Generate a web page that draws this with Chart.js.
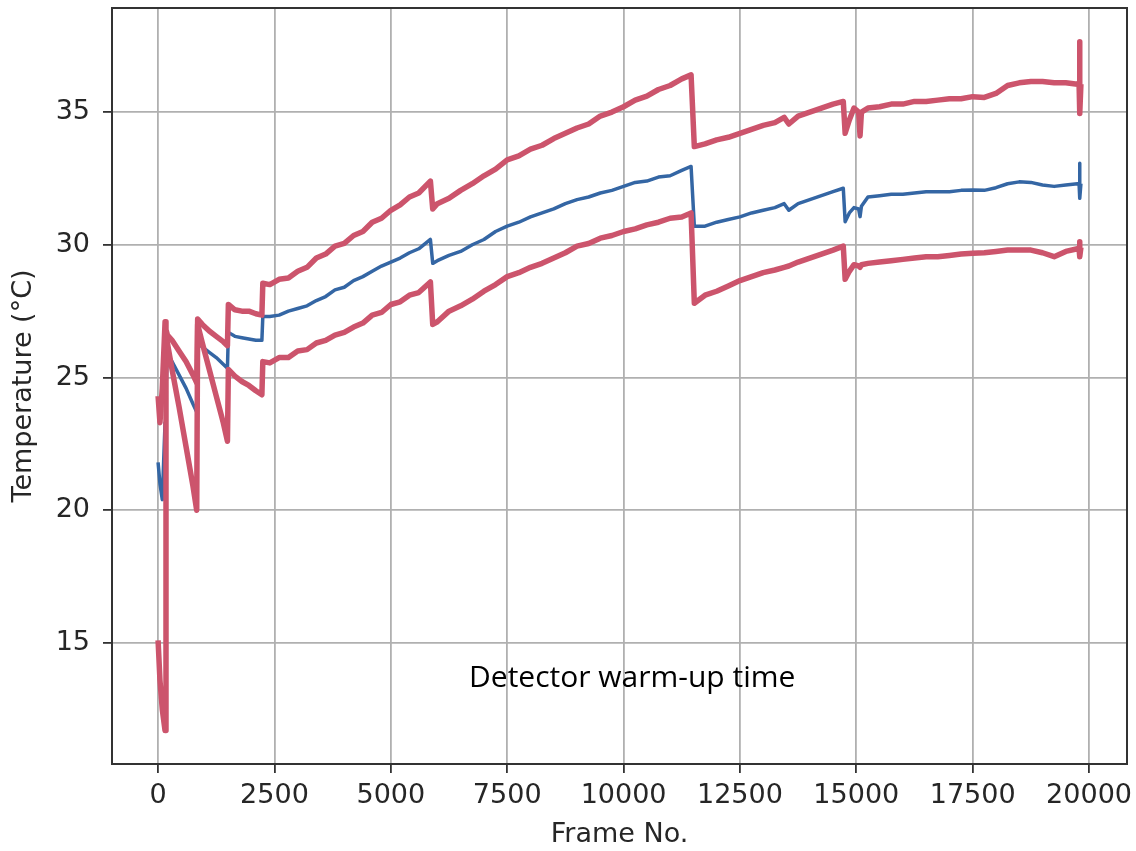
<!DOCTYPE html>
<html>
<head>
<meta charset="utf-8">
<script src="https://cdn.jsdelivr.net/npm/chart.js@4.4.1/dist/chart.umd.min.js"></script>
<style>
  html, body { margin: 0; padding: 0; background: #fff; }
</style>
</head>
<body>
<canvas id="tempChart" width="1136" height="851"></canvas>
<script>
// frame numbers shared by the three traces
var frames = [
  0, 40, 90, 150, 170, 200, 300, 450, 600, 750, 830, 850, 950, 1100, 1250, 1400, 1490, 1510, 1650, 1800, 1950, 2100, 2230, 2250,
  2400, 2600, 2800, 3000, 3200, 3400, 3600, 3800, 4000, 4200, 4400, 4600, 4800, 5000, 5200, 5400, 5600, 5850, 5900,
  6000, 6250, 6500, 6750, 7000, 7250, 7500, 7750, 8000, 8250, 8500, 8750, 9000, 9250, 9500, 9750, 10000, 10250, 10500, 10750, 11000, 11250, 11450, 11520,
  11750, 12000, 12250, 12500, 12750, 13000, 13250, 13450, 13550, 13750, 14000, 14250, 14500, 14720, 14760,
  14850, 14950, 15050, 15080, 15110, 15250, 15500, 15750, 16000, 16250, 16500, 16750, 17000, 17250, 17500, 17750, 18000, 18250, 18500, 18750, 19000, 19250, 19500, 19750, 19785, 19795, 19805, 19825
];

var upperTemps = [
  24.3, 23.3, 24.6, 27.1, 26.8, 26.6, 26.4, 26.0, 25.6, 25.1, 24.8, 27.2, 27.0, 26.75, 26.55, 26.35, 26.2, 27.75, 27.55, 27.5, 27.5, 27.4, 27.35, 28.55,
  28.5, 28.7, 28.75, 29.0, 29.15, 29.5, 29.65, 29.95, 30.05, 30.35, 30.5, 30.85, 31.0, 31.3, 31.5, 31.8, 31.95, 32.4, 31.35,
  31.55, 31.75, 32.05, 32.3, 32.6, 32.85, 33.2, 33.35, 33.6, 33.75, 34.0, 34.2, 34.4, 34.55, 34.85, 35.0, 35.2, 35.45, 35.6, 35.85, 36.0, 36.25, 36.4, 33.7,
  33.8, 33.95, 34.05, 34.2, 34.35, 34.5, 34.6, 34.8, 34.55, 34.85, 35.0, 35.15, 35.3, 35.4, 34.2,
  34.7, 35.15, 35.0, 34.1, 35.0, 35.15, 35.2, 35.3, 35.3, 35.4, 35.4, 35.45, 35.5, 35.5, 35.58, 35.55, 35.7, 36.0, 36.1, 36.15, 36.15, 36.1, 36.1, 36.05, 36.1, 37.65, 34.95, 36.05
];

var meanTemps = [
  21.8, 21.0, 20.4, 23.3, 24.6, 25.9, 25.6, 25.1, 24.6, 24.0, 23.7, 26.3, 26.15, 25.95, 25.75, 25.5, 25.35, 26.7, 26.55, 26.5, 26.45, 26.4, 26.4, 27.3,
  27.3, 27.35, 27.5, 27.6, 27.7, 27.9, 28.05, 28.3, 28.4, 28.65, 28.8, 29.0, 29.2, 29.35, 29.5, 29.7, 29.85, 30.2, 29.3,
  29.4, 29.6, 29.75, 30.0, 30.2, 30.5, 30.7, 30.85, 31.05, 31.2, 31.35, 31.55, 31.7, 31.8, 31.95, 32.05, 32.2, 32.35, 32.4, 32.55, 32.6, 32.8, 32.95, 30.7,
  30.7, 30.85, 30.95, 31.05, 31.2, 31.3, 31.4, 31.55, 31.3, 31.55, 31.7, 31.85, 32.0, 32.13, 30.87,
  31.2, 31.4, 31.35, 31.06, 31.45, 31.8, 31.85, 31.9, 31.9, 31.95, 32.0, 32.0, 32.0, 32.05, 32.06, 32.05, 32.15, 32.3, 32.37, 32.35, 32.25, 32.2, 32.25, 32.3, 32.3, 33.07, 31.75, 32.3
];

var lowerTemps = [
  15.1, 13.6, 12.5, 11.7, 26.6, 26.3, 25.3, 23.9, 22.4, 20.9, 20.0, 27.0, 26.3, 25.3, 24.3, 23.3, 22.6, 25.3, 25.05, 24.85, 24.7, 24.5, 24.35, 25.6,
  25.55, 25.75, 25.75, 26.0, 26.05, 26.3, 26.4, 26.6, 26.7, 26.9, 27.05, 27.35, 27.45, 27.75, 27.85, 28.1, 28.2, 28.6, 27.0,
  27.1, 27.5, 27.7, 27.95, 28.25, 28.5, 28.8, 28.95, 29.15, 29.3, 29.5, 29.7, 29.95, 30.05, 30.25, 30.35, 30.5, 30.6, 30.75, 30.85, 31.0, 31.05, 31.2, 27.8,
  28.1, 28.25, 28.45, 28.65, 28.8, 28.95, 29.05, 29.15, 29.2, 29.35, 29.5, 29.65, 29.8, 29.95, 28.7,
  29.0, 29.25, 29.2, 29.15, 29.25, 29.3, 29.35, 29.4, 29.45, 29.5, 29.55, 29.55, 29.6, 29.65, 29.68, 29.7, 29.75, 29.8, 29.8, 29.8, 29.7, 29.55, 29.75, 29.85, 29.85, 30.11, 29.55, 29.9
];

var xTicks = [0, 2500, 5000, 7500, 10000, 12500, 15000, 17500, 20000];
var yTicks = [15, 20, 25, 30, 35];

var noteText = 'Detector warm-up time';
var noteFrame = 6680;
var noteTemp = 13.35;

var RED = 'rgb(204, 84, 108)';
var BLUE = 'rgb(52, 102, 164)';

function pts(temps) {
  return frames.map(function (f, i) { return { x: f, y: temps[i] }; });
}

var boxAndNote = {
  id: 'boxAndNote',
  afterDraw: function (chart) {
    var ctx = chart.ctx, a = chart.chartArea;
    ctx.save();
    ctx.strokeStyle = '#333';
    ctx.lineWidth = 2;
    ctx.strokeRect(a.left, a.top, a.right - a.left, a.bottom - a.top);
    var x = chart.scales.x.getPixelForValue(noteFrame);
    var y = chart.scales.y.getPixelForValue(noteTemp);
    ctx.font = '30px "Open Sans"';
    ctx.fillStyle = '#000';
    ctx.textBaseline = 'alphabetic';
    ctx.textAlign = 'left';
    ctx.fillText(noteText, x, y);
    ctx.restore();
  }
};

var tickFont = { family: 'DejaVu Sans', size: 27 };

new Chart(document.getElementById('tempChart'), {
  type: 'line',
  data: {
    datasets: [
      { data: pts(upperTemps), borderColor: RED, borderWidth: 5.5 },
      { data: pts(lowerTemps), borderColor: RED, borderWidth: 5.5 },
      { data: pts(meanTemps), borderColor: BLUE, borderWidth: 3.5 }
    ]
  },
  options: {
    responsive: false,
    devicePixelRatio: 1,
    animation: false,
    parsing: false,
    elements: {
      point: { radius: 0 },
      line: { tension: 0, borderJoinStyle: 'round', fill: false }
    },
    layout: { padding: { top: 8, right: 9, left: 0, bottom: 0 } },
    plugins: { legend: { display: false }, tooltip: { enabled: false } },
    scales: {
      x: {
        type: 'linear',
        min: -990,
        max: 20815,
        afterBuildTicks: function (s) { s.ticks = xTicks.map(function (v) { return { value: v }; }); },
        afterFit: function (s) { s.height = 87; s.paddingLeft = 0; s.paddingRight = 0; },
        grid: { color: '#b0b0b0', lineWidth: 1.8, tickColor: '#333', tickWidth: 1.8, tickLength: 9 },
        border: { display: false },
        ticks: {
          font: tickFont, color: '#262626', padding: 7, maxRotation: 0,
          callback: function (v) { return String(v); }
        },
        title: {
          display: true, text: 'Frame No.', color: '#262626',
          font: { family: 'DejaVu Sans', size: 27 }, padding: { top: 0, bottom: 0 }
        }
      },
      y: {
        type: 'linear',
        min: 10.44,
        max: 38.92,
        afterBuildTicks: function (s) { s.ticks = yTicks.map(function (v) { return { value: v }; }); },
        afterFit: function (s) { s.width = 112; s.paddingTop = 0; s.paddingBottom = 0; },
        grid: { color: '#b0b0b0', lineWidth: 1.8, tickColor: '#333', tickWidth: 1.8, tickLength: 9 },
        border: { display: false },
        ticks: {
          font: tickFont, color: '#262626', padding: 13,
          callback: function (v) { return String(v); }
        },
        title: {
          display: true, text: 'Temperature (\u00b0C)', color: '#262626',
          font: { family: 'DejaVu Sans', size: 27 }, padding: { top: 8, bottom: 0 }
        }
      }
    }
  },
  plugins: [boxAndNote]
});
</script>
</body>
</html>
